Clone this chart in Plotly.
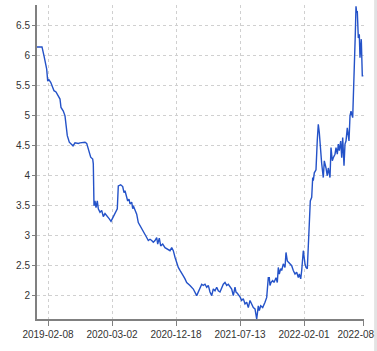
import plotly.graph_objects as go

# position index (trading-day scale) and values
pos = [0, 5, 7, 9.7, 10.7, 12, 13.7, 15.7, 17, 19, 21.3, 23, 24, 26.3, 28, 29, 30.3, 32.3, 34.7, 36,
       38, 41.3, 43, 44.7, 48, 49.7, 51.3, 53.7, 55.7, 56.3, 57, 58, 59, 60.3, 61.3, 63, 64.7, 66.3, 68, 69.7,
       72.3, 74, 76.3, 79, 80.3, 81.3, 83.7, 85.7, 87, 88, 89.7, 90.7, 92, 93, 94.7, 95.7, 96.3, 98, 99.7, 101.3,
       103, 104.7, 106.3, 108, 109.7, 111.3, 113, 114.7, 116.3, 118, 119.7, 120.7, 122.3, 123.7, 125.7, 128, 130.3, 133, 134.7, 136.3,
       138, 139.7, 141.3, 143, 144.7, 146.3, 148, 149.7, 153, 156.3, 159.7, 161.3, 163, 164.7, 166.3, 168, 169.7, 171.3,
       173, 174.7, 176.3, 178, 179.7, 181.3, 183, 184.7, 186.3, 188, 189.7, 191.3, 193, 194.7, 196.3, 198, 199, 200.3,
       203, 204.7, 206.3, 208, 209.7, 211.3, 213, 214.7, 216.3, 218, 219.7, 221.3, 222.3, 223.7, 225.7, 228, 229.7, 231.3,
       232.3, 233, 234, 235.7, 237, 239, 240.3, 241.3, 242.3, 243.7, 244.7, 246.3, 248, 249, 250.3, 251.3, 253, 254.7,
       256.3, 258, 259.7, 261.3, 262.3, 263.7, 264.7, 266.3, 268, 269, 270.3, 271.3, 272.3, 273.3, 274.7, 275.7, 276.3, 277.3,
       279, 280.3, 281.3, 282.3, 283.7, 284.7, 286.3, 287.3, 289, 290.3, 291.3, 293, 294, 295.3, 296.3, 298, 299, 300.3,
       301.3, 302.3, 303.7, 304.7, 305.7, 307, 308, 309, 310.3, 312, 313, 314, 315.7, 317, 318.3, 319, 319.7, 320.3,
       321.3, 322.3, 323, 324.3, 324.7, 325.3, 326.3]
vals = [6.15, 6.15, 6.0, 5.78, 5.58, 5.6, 5.56, 5.47, 5.42, 5.40, 5.33, 5.28, 5.14, 5.08, 5.0, 4.8, 4.67, 4.56, 4.53, 4.50,
        4.55, 4.54, 4.55, 4.55, 4.56, 4.54, 4.44, 4.31, 4.28, 4.2, 3.5, 3.58, 3.47, 3.58, 3.45, 3.39, 3.42, 3.32, 3.37, 3.34,
        3.28, 3.24, 3.32, 3.42, 3.45, 3.83, 3.85, 3.82, 3.72, 3.75, 3.64, 3.58, 3.61, 3.53, 3.56, 3.45, 3.5, 3.42, 3.36, 3.22,
        3.17, 3.14, 3.08, 3.03, 2.97, 2.92, 2.94, 2.92, 2.89, 2.92, 2.97, 2.86, 2.96, 2.83, 2.86, 2.80, 2.78, 2.75, 2.80, 2.75,
        2.64, 2.53, 2.47, 2.42, 2.36, 2.33, 2.28, 2.22, 2.17, 2.11, 2.0, 2.06, 2.14, 2.19, 2.17, 2.19, 2.14, 2.17, 2.06, 2.0,
        2.11, 2.08, 2.14, 2.08, 2.06, 2.14, 2.19, 2.22, 2.17, 2.19, 2.14, 2.11, 2.0, 2.14, 2.06, 2.04, 1.98, 1.92,
        1.95, 1.86, 1.89, 1.80, 1.92, 1.86, 1.80, 1.78, 1.61, 1.83, 1.75, 1.83, 1.80, 1.89, 1.97, 2.3, 2.3, 2.17,
        2.22, 2.25, 2.22, 2.30, 2.22, 2.47, 2.36, 2.45, 2.42, 2.53, 2.47, 2.72, 2.58, 2.56, 2.53, 2.50, 2.42, 2.36,
        2.39, 2.30, 2.36, 2.28, 2.42, 2.75, 2.53, 2.47, 2.45, 3.03, 3.2, 3.58, 3.64, 3.97, 3.92, 4.05, 4.1, 4.6,
        4.86, 4.72, 4.3, 4.2, 3.97, 4.25, 4.13, 4.0, 4.13, 3.97, 4.47, 4.25, 4.30, 4.36, 4.47, 4.36, 4.53, 4.42,
        4.58, 4.30, 4.64, 4.17, 4.53, 4.58, 4.80, 4.58, 5.0, 5.08, 4.97, 5.53, 6.36, 6.83, 6.72, 6.75, 6.3, 6.36,
        5.97, 6.28, 5.67, 5.67, 5.67, 5.67, 5.67]

n = min(len(pos), len(vals))
pos = pos[:n]
vals = vals[:n]

tick_pos = [11, 75, 139, 203, 267, 326]
tick_text = ["2019-02-08", "2020-03-02", "2020-12-18", "2021-07-13", "2022-02-01", "2022-08-01"]
y_ticks = [2, 2.5, 3, 3.5, 4, 4.5, 5, 5.5, 6, 6.5]

fig = go.Figure()
fig.add_trace(go.Scatter(x=pos, y=vals, mode="lines",
                         line=dict(color="#2452c8", width=1.4), hoverinfo="skip"))

axis_font = dict(family="Liberation Sans, Arial, sans-serif", size=10, color="#333333")
fig.update_layout(
    width=377, height=351,
    margin=dict(l=37, r=13, t=5, b=32, autoexpand=False),
    paper_bgcolor="white", plot_bgcolor="white",
    showlegend=False,
    xaxis=dict(range=[0, 327], tickvals=tick_pos, ticktext=tick_text, tickfont=axis_font,
               ticklabeloverflow="allow", automargin=False,
               showline=True, linecolor="#808080", linewidth=2,
               ticks="outside", ticklen=5, tickcolor="#808080", tickwidth=1,
               showgrid=True, gridcolor="#d0d0d0", griddash="3px,3px", gridwidth=1,
               zeroline=False),
    yaxis=dict(range=[1.61, 6.85], tickvals=y_ticks, tickfont=axis_font, automargin=False,
               showline=True, linecolor="#808080", linewidth=2,
               ticks="outside", ticklen=3, tickcolor="#808080", tickwidth=1,
               showgrid=True, gridcolor="#d0d0d0", griddash="3px,3px", gridwidth=1,
               zeroline=False),
    shapes=[dict(type="rect", xref="paper", yref="paper", x0=1.031, x1=1.05, y0=-0.2, y1=1.1,
                 fillcolor="#e3e3e3", line=dict(width=0), layer="above")],
)
fig.write_html("out.html")
